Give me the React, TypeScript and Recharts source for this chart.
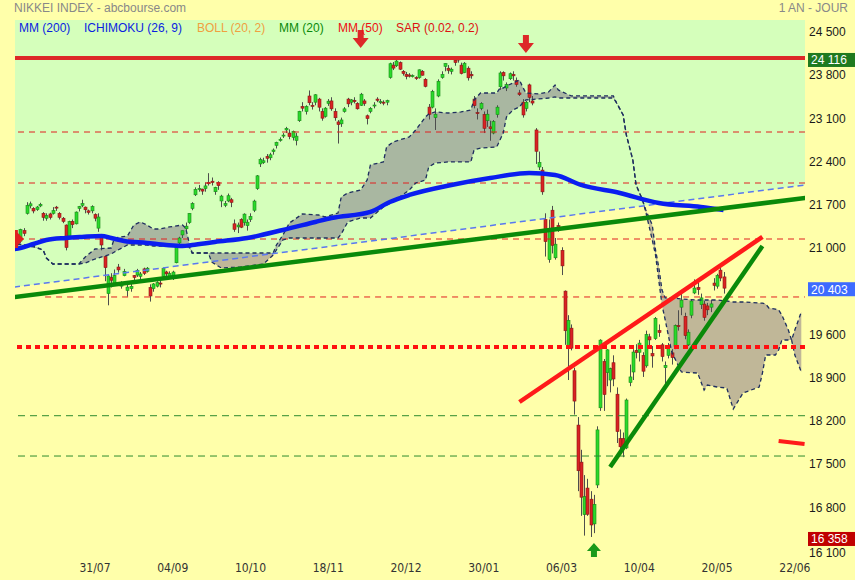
import React from "react";
import { ComposedChart, XAxis, YAxis, Area, Line, Bar, Scatter, ReferenceLine } from "recharts";

// trading day index of the first candle (0 = 25/06/2019)
const firstCandle = 1;

// [open, high, low, close], one per trading day, 26/06/2019 -> 22/05/2020
const candles = [
  [21180, 21260, 21050, 21086], [21150, 21350, 21120, 21338], [21320, 21360, 21230, 21275],
  // juillet
  [21600, 21780, 21580, 21729], [21720, 21790, 21680, 21754], [21680, 21700, 21600, 21638], [21660, 21720, 21640, 21702], [21720, 21770, 21700, 21746],
  [21600, 21620, 21480, 21534], [21520, 21600, 21480, 21565], [21590, 21610, 21500, 21533], [21600, 21700, 21580, 21643], [21700, 21720, 21640, 21686],
  [21600, 21620, 21500, 21535], [21520, 21540, 21440, 21469], [21410, 21420, 21000, 21046], [21230, 21480, 21200, 21466],
  [21470, 21500, 21360, 21416], [21430, 21630, 21420, 21620], [21680, 21720, 21630, 21709], [21730, 21820, 21700, 21756], [21700, 21710, 21600, 21658],
  [21640, 21660, 21580, 21616], [21640, 21730, 21600, 21709], [21580, 21600, 21470, 21521],
  // aout
  [21360, 21600, 21300, 21540], [21230, 21250, 21000, 21087],
  [20900, 20910, 20500, 20720], [20300, 20600, 20110, 20585], [20560, 20630, 20400, 20516], [20470, 20690, 20460, 20593], [20730, 20780, 20640, 20684],
  [20420, 20500, 20380, 20455], [20590, 20700, 20580, 20655], [20350, 20470, 20250, 20405], [20380, 20480, 20330, 20418],
  [20590, 20600, 20500, 20563], [20600, 20700, 20570, 20677], [20580, 20650, 20520, 20618], [20700, 20720, 20600, 20628], [20660, 20730, 20640, 20711],
  [20400, 20450, 20170, 20261], [20380, 20470, 20330, 20456], [20420, 20500, 20400, 20479], [20470, 20520, 20400, 20460], [20580, 20720, 20560, 20704],
  // septembre
  [20650, 20670, 20570, 20620], [20580, 20660, 20550, 20625], [20590, 20670, 20520, 20649], [20800, 21100, 20790, 21086], [21120, 21220, 21100, 21200],
  [21250, 21320, 21200, 21318], [21350, 21450, 21320, 21392], [21450, 21600, 21430, 21598], [21680, 21780, 21650, 21759], [21900, 22020, 21880, 21988],
  [21990, 22060, 21950, 22001], [21990, 22000, 21900, 21960], [22000, 22100, 21950, 22044], [22100, 22250, 22050, 22079],
  [22120, 22180, 22050, 22098], [21950, 22030, 21900, 22020], [22100, 22120, 21980, 22048], [21800, 21900, 21700, 21879],
  [21730, 21800, 21700, 21756],
  // octobre
  [21800, 21920, 21780, 21885], [21820, 21850, 21700, 21778], [21430, 21500, 21300, 21341], [21380, 21450, 21280, 21410],
  [21500, 21520, 21360, 21375], [21450, 21600, 21400, 21587], [21400, 21500, 21320, 21456], [21500, 21600, 21460, 21551], [21650, 21820, 21620, 21798],
  [22000, 22220, 21980, 22207], [22400, 22500, 22350, 22472], [22420, 22500, 22400, 22451], [22520, 22560, 22420, 22492],
  [22500, 22580, 22460, 22548], [22600, 22650, 22550, 22625], [22700, 22760, 22650, 22750], [22780, 22830, 22760, 22799],
  [22860, 22900, 22820, 22867], [22950, 23000, 22900, 22974], [22900, 22960, 22800, 22843], [22830, 22940, 22780, 22927],
  // novembre
  [22780, 22900, 22700, 22850],
  [23100, 23260, 23080, 23251], [23330, 23400, 23250, 23303], [23250, 23350, 23200, 23330], [23500, 23590, 23350, 23391],
  [23350, 23400, 23280, 23331], [23400, 23530, 23350, 23520], [23450, 23470, 23250, 23319], [23250, 23300, 23100, 23141], [23170, 23320, 23150, 23303],
  [23380, 23450, 23340, 23416], [23420, 23480, 23260, 23292], [23250, 23300, 23100, 23148], [23080, 23110, 22730, 23038], [23050, 23150, 23000, 23112],
  [23250, 23320, 23230, 23292], [23450, 23470, 23320, 23373], [23400, 23450, 23350, 23437], [23430, 23480, 23380, 23409], [23380, 23400, 23280, 23293],
  // decembre
  [23350, 23550, 23340, 23529], [23420, 23450, 23340, 23379], [23180, 23200, 23040, 23135], [23250, 23320, 23220, 23300], [23340, 23400, 23300, 23354],
  [23450, 23480, 23400, 23430], [23400, 23450, 23370, 23410], [23400, 23430, 23350, 23391], [23400, 23440, 23350, 23424], [23800, 24040, 23780, 24023],
  [24000, 24050, 23920, 23952], [23990, 24090, 23970, 24066], [24040, 24060, 23920, 23934], [23900, 23920, 23830, 23864], [23850, 23890, 23770, 23816],
  [23840, 23870, 23800, 23821], [23820, 23850, 23800, 23830], [23800, 23820, 23760, 23782], [23800, 23930, 23780, 23924], [23900, 23920, 23830, 23837],
  [23770, 23790, 23640, 23656],
  // janvier
  [23320, 23370, 23120, 23204], [23320, 23600, 23300, 23575], [23150, 23300, 22950, 23204], [23500, 23770, 23480, 23739], [23800, 23900, 23780, 23850],
  [23980, 24030, 23900, 24025], [23950, 24000, 23860, 23916], [23900, 23960, 23850, 23933], [24080, 24116, 23990, 24041],
  [24100, 24110, 24040, 24083], [24000, 24040, 23850, 23864], [23880, 24050, 23870, 24031], [23950, 23980, 23750, 23795], [23850, 23900, 23780, 23827],
  [23450, 23500, 23300, 23343], [23230, 23300, 23120, 23215], [23300, 23400, 23270, 23379], [23200, 23250, 22900, 22977], [23100, 23280, 23000, 23205],
  // fevrier
  [23000, 23100, 22775, 22971], [22900, 23110, 22880, 23084], [23200, 23350, 23150, 23319], [23650, 23900, 23600, 23873], [23880, 23900, 23750, 23827],
  [23630, 23720, 23580, 23685], [23780, 23880, 23760, 23861], [23850, 23900, 23750, 23827], [23750, 23800, 23650, 23687],
  [23550, 23600, 23500, 23523], [23400, 23450, 23150, 23193], [23300, 23420, 23250, 23400], [23680, 23700, 23400, 23479], [23420, 23500, 23350, 23386],
  [22950, 22980, 22400, 22605], [22350, 22600, 22300, 22426], [22300, 22350, 21900, 21948], [21500, 21600, 20900, 21142],
  // mars
  [20850, 21500, 20800, 21344], [21650, 21720, 20950, 21082], [20880, 21200, 20850, 21100], [21400, 21450, 21300, 21329], [21000, 21050, 20600, 20749],
  [20340, 20350, 19470, 19698], [19450, 19950, 18900, 19867], [19740, 19800, 19380, 19416], [19050, 19100, 18340, 18559], [18170, 18300, 17100, 17431],
  [17570, 17770, 16700, 17002], [16720, 17360, 16380, 17011], [17150, 17300, 16700, 16726], [16970, 17100, 16358, 16552],
  [16570, 17040, 16420, 16887], [17200, 18150, 17150, 18092], [18450, 19560, 18400, 19546], [19200, 19240, 18400, 18665], [19020, 19400, 18800, 19389],
  [18900, 19100, 18700, 19084], [19180, 19300, 18800, 18917],
  // avril
  [18670, 18780, 17880, 18065], [17950, 18100, 17700, 17819], [17950, 18050, 17650, 17820],
  [17800, 18600, 17780, 18576], [18860, 19150, 18800, 18950], [19030, 19400, 18900, 19353], [19380, 19480, 19250, 19345], [19350, 19550, 19200, 19498],
  [19300, 19350, 18950, 19043], [19130, 19700, 19100, 19638], [19600, 19650, 19450, 19550], [19330, 19450, 19100, 19290], [19570, 19920, 19550, 19897],
  [19700, 19800, 19600, 19669], [19470, 19500, 19200, 19280], [19100, 19200, 18800, 19137], [19300, 19500, 19250, 19429], [19340, 19400, 19150, 19262],
  [19440, 19800, 19400, 19783], [19780, 20030, 19700, 19771], [20080, 20300, 19950, 20193],
  // mai
  [19930, 19990, 19560, 19619], [19470, 19720, 19450, 19674], [19950, 20200, 19900, 20179],
  [20310, 20530, 20290, 20390], [20400, 20480, 20280, 20366], [20120, 20300, 20050, 20230], [20130, 20180, 19860, 19914], [20100, 20150, 19950, 20037],
  [20080, 20200, 20000, 20133], [20470, 20550, 20350, 20433], [20420, 20620, 20380, 20595], [20680, 20750, 20500, 20552], [20570, 20650, 20300, 20388],
];

// ichimoku cloud (already shifted 26 sessions ahead)
const cloudIdx = [1, 6, 9, 10, 12, 20, 22, 25, 30, 31, 35, 37, 39, 41, 43, 45, 48, 52, 53, 54, 55, 60, 61, 64, 70, 77, 80, 81, 83, 85, 89, 94, 96, 100, 101, 103, 107, 109, 110, 114, 115, 117, 122, 124, 127, 128, 130, 134, 138, 141, 142, 144, 149, 150, 151, 152, 154, 156, 157, 158, 162, 165, 167, 168, 172, 185, 186, 188, 189, 191, 192, 194, 195, 197, 198, 199, 200, 201, 203, 206, 211, 213, 214, 217, 220, 222, 225, 230, 231, 232, 233, 235, 236, 237, 239, 240, 241, 243];
const spanA = [21103, 21071, 21006, 20876, 20779, 20779, 20893, 21022, 21038, 21200, 21233, 21411, 21460, 21411, 21346, 21346, 21379, 21411, 21362, 21136, 20957, 20957, 20957, 20957, 20957, 20957, 20957, 21087, 21249, 21443, 21589, 21573, 21541, 21605, 21865, 21929, 21978, 22140, 22383, 22432, 22675, 22756, 22837, 22950, 23161, 23209, 23242, 23225, 23242, 23274, 23436, 23549, 23549, 23630, 23630, 23663, 23711, 23760, 23647, 23549, 23533, 23566, 23679, 23598, 23501, 23501, 23387, 23193, 22869, 22464, 22059, 21816, 21654, 21411, 21006, 20731, 20358, 20230, 20230, 20213, 20196, 20196, 20196, 20196, 20180, 20164, 20164, 20147, 20147, 20131, 20066, 20050, 20034, 19953, 19710, 19548, 19710, 20002];
const spanB = [21103, 21055, 21006, 20876, 20779, 20779, 20795, 20860, 20941, 20974, 21087, 21087, 21087, 21087, 21071, 21071, 21071, 21071, 21055, 21055, 20957, 20957, 20812, 20714, 20731, 20779, 20925, 21006, 21168, 21200, 21200, 21200, 21200, 21200, 21265, 21460, 21524, 21524, 21524, 21703, 21735, 21784, 21978, 22091, 22140, 22351, 22415, 22432, 22432, 22432, 22626, 22658, 22675, 22788, 22901, 23161, 23274, 23323, 23387, 23436, 23452, 23468, 23485, 23468, 23468, 23468, 23387, 23193, 22869, 22464, 22059, 21816, 21622, 21168, 20925, 20520, 20115, 19872, 19354, 19030, 19013, 18738, 18819, 18787, 18770, 18430, 18689, 18787, 19013, 19305, 19305, 19305, 19386, 19548, 19548, 19548, 19305, 19030];

// moyenne mobile 200
const mmIdx = [0, 2, 6, 10, 16, 21, 27, 30, 34, 41, 47, 52, 55, 62, 72, 83, 93, 98, 110, 116, 122, 135, 147, 159, 167, 175, 187, 199, 212, 219];
const mm200 = [21022, 21038, 21103, 21168, 21200, 21217, 21233, 21200, 21152, 21120, 21087, 21071, 21087, 21136, 21200, 21330, 21460, 21524, 21622, 21784, 21897, 22059, 22172, 22253, 22221, 22059, 21929, 21767, 21703, 21654];

// trend lines [index, value] pairs
const supportLong = [[0, 20243], [245, 21854]];
const channelLong = [[0, 20405], [245, 22065]];
const resistanceUp = [[156, 18544], [231, 21217]];
const supportUp = [[184, 17490], [231, 21071]];
const sarNext = [[236, 17912], [244, 17863]];

const yearHigh = 24116;
const lastPrice = 20403;
const yearLow = 16358;
const redLevels = [22917, 22091, 21184];
const redLevelLate = 20245;
const redMajor = 19435;
const greenLevels = [18322, 17669];

const sellIdx = [107, 158];
const sellVal = [24278, 24197];
const buyIdx = [179];
const buyVal = [16260];

const tickIdx = [25, 49, 73, 97, 121, 145, 169, 193, 217, 241];
const tickLabels = ["31/07", "04/09", "10/10", "18/11", "20/12", "30/01", "06/03", "10/04", "20/05", "22/06"];
const yTicks = [16100, 16800, 17500, 18200, 18900, 19600, 21000, 21700, 22400, 23100, 23800, 24500];

const lastSlot = 245;
const xDomain = [0.31, 244.14];
const yDomain = [15985, 24731];

const rows: any[] = [];
for (let i = 0; i <= lastSlot; i++) rows.push({ x: i });
candles.forEach((c, k) => {
  const r = rows[firstCandle + k];
  r.o = c[0]; r.h = c[1]; r.l = c[2]; r.c = c[3];
  r.range = [c[2], c[1]];
});
cloudIdx.forEach((ix, k) => {
  const r = rows[ix];
  r.spanA = spanA[k];
  r.spanB = spanB[k];
  r.cloud = [Math.min(spanA[k], spanB[k]), Math.max(spanA[k], spanB[k])];
});
mmIdx.forEach((ix, k) => { rows[ix].mm200 = mm200[k]; });
const put = (pts: number[][], key: string) => pts.forEach(([ix, v]) => { rows[ix][key] = v; });
put(supportLong, "supportLong");
put(channelLong, "channelLong");
put(resistanceUp, "resistanceUp");
put(supportUp, "supportUp");
put(sarNext, "sarNext");
channelLong.forEach(([ix, v]) => { rows[ix].bg = [v, yDomain[1] + 100]; });

const sellRows = sellIdx.map((x, k) => ({ x, v: sellVal[k] }));
const buyRows = buyIdx.map((x, k) => ({ x, v: buyVal[k] }));
const flagRows = [{ x: 1.2, v: 21184 }];

const font = "Arial, 'Liberation Sans', sans-serif";
const fmt = (v: number) => `${Math.floor(v / 1000)} ${String(v % 1000).padStart(3, "0")}`;

function Candle(props: any) {
  const { x, y, width, height, payload } = props;
  if (!payload || payload.o == null) return null;
  const cx = Math.round(x + width / 2) + 0.5;
  const top = Math.min(y, y + height);
  const h = Math.abs(height);
  const span = payload.h - payload.l;
  const py = (v: number) => (span > 0 ? top + ((payload.h - v) / span) * h : top);
  const up = payload.c >= payload.o;
  const bt = py(Math.max(payload.o, payload.c));
  const bb = py(Math.min(payload.o, payload.c));
  return (
    <g>
      <line x1={cx} x2={cx} y1={top} y2={top + h} stroke="#4d4d4d" strokeWidth={1} />
      <rect
        x={cx - 1.5}
        y={bt}
        width={3}
        height={Math.max(1, bb - bt)}
        fill={up ? "#2bd92b" : "#d92323"}
        stroke={up ? "#178a17" : "#8a1616"}
        strokeWidth={0.6}
      />
    </g>
  );
}

const DownArrow = ({ cx, cy }: any) => (
  <polygon
    points={`${cx},${cy} ${cx - 8},${cy - 10} ${cx - 3},${cy - 10} ${cx - 3},${cy - 18} ${cx + 3},${cy - 18} ${cx + 3},${cy - 10} ${cx + 8},${cy - 10}`}
    fill="#dd2828"
  />
);
const UpArrow = ({ cx, cy }: any) => (
  <polygon
    points={`${cx},${cy} ${cx - 7},${cy + 8} ${cx - 3},${cy + 8} ${cx - 3},${cy + 14} ${cx + 3},${cy + 14} ${cx + 3},${cy + 8} ${cx + 7},${cy + 8}`}
    fill="#1a9a1a"
  />
);
const Flag = ({ cx, cy }: any) => (
  <polygon
    points={`${cx - 3},${cy - 9} ${cx},${cy - 9} ${cx},${cy - 6} ${cx + 6},${cy} ${cx},${cy + 6} ${cx},${cy + 9} ${cx - 3},${cy + 9}`}
    fill="#e02020"
  />
);

const badge = (text: string, color: string) => (p: any) => {
  const vb = p.viewBox || {};
  const bx = vb.x + vb.width + 3;
  return (
    <g>
      <rect x={bx} y={vb.y - 5} width={50} height={14} fill={color} />
      <text x={bx + 3} y={vb.y + 6.5} fill="#ffffff" fontSize={12} fontFamily={font}>{text}</text>
    </g>
  );
};

const XTick = ({ x, y, payload }: any) => {
  const k = tickIdx.indexOf(payload.value);
  return (
    <text x={x} y={y} dy={4} textAnchor="middle" fontSize={12} fill="#333"
      fontFamily="'Liberation Sans Narrow', 'Arial Narrow', 'DejaVu Sans Condensed', sans-serif">
      {tickLabels[k]}
    </text>
  );
};

const YTick = ({ x, y, payload }: any) => (
  <text x={x} y={y} dx={-4} dy={payload.value === 16100 ? 4 : 2} textAnchor="start" fontSize={12} fill="#1a1a1a" fontFamily={font}>
    {fmt(payload.value)}
  </text>
);

const legend = [
  { t: "MM (200)", c: "#0a1ee0", x: 19 },
  { t: "ICHIMOKU (26, 9)", c: "#0a1ee0", x: 84 },
  { t: "BOLL (20, 2)", c: "#f0a040", x: 197 },
  { t: "MM (20)", c: "#0a8a0a", x: 279 },
  { t: "MM (50)", c: "#ee1111", x: 338 },
  { t: "SAR (0.02, 0.2)", c: "#dd1111", x: 396 },
];

export default function App() {
  return (
    <div style={{ position: "absolute", left: 0, top: 0, width: 855, height: 580, background: "#ffffaa", fontFamily: font, overflow: "hidden" }}>
      <ComposedChart width={855} height={580} data={rows} margin={{ top: 20, right: 0, bottom: 0, left: 15 }}>
        <XAxis dataKey="x" type="number" domain={xDomain} allowDataOverflow ticks={tickIdx} interval={0}
          tick={<XTick />} axisLine={false} tickLine={false} height={20} />
        <YAxis orientation="right" type="number" domain={yDomain} allowDataOverflow ticks={yTicks} interval={0}
          tick={<YTick />} axisLine={false} tickLine={false} width={50} />

        <Area dataKey="bg" type="linear" connectNulls fill="#d5ffbb" fillOpacity={1} stroke="none" isAnimationActive={false} activeDot={false} />
        <Area dataKey="cloud" type="linear" connectNulls fill="rgb(115,95,130)" fillOpacity={0.45} stroke="none" isAnimationActive={false} activeDot={false} />

        {redLevels.map((v) => (
          <ReferenceLine key={v} y={v} stroke="#e02020" strokeWidth={1} strokeDasharray="6 5" />
        ))}
        <ReferenceLine segment={[{ x: 9.6, y: redLevelLate }, { x: xDomain[1], y: redLevelLate }]} stroke="#e02020" strokeWidth={1} strokeDasharray="6 5" />
        {greenLevels.map((v) => (
          <ReferenceLine key={v} y={v} stroke="#2e8b2e" strokeWidth={1} strokeDasharray="7 5" />
        ))}

        <Line dataKey="spanA" type="linear" connectNulls stroke="#1f2f5f" strokeWidth={1.3} strokeDasharray="4 3" dot={false} activeDot={false} isAnimationActive={false} />
        <Line dataKey="spanB" type="linear" connectNulls stroke="#1f2f5f" strokeWidth={1.3} strokeDasharray="4 3" dot={false} activeDot={false} isAnimationActive={false} />
        <Line dataKey="channelLong" type="linear" connectNulls stroke="#5a78f0" strokeWidth={1.5} strokeDasharray="6 4" dot={false} activeDot={false} isAnimationActive={false} />

        <Bar dataKey="range" barSize={3} shape={<Candle />} isAnimationActive={false} />

        <Line dataKey="mm200" type="monotone" connectNulls stroke="#0a1ef0" strokeWidth={4.5} dot={false} activeDot={false} isAnimationActive={false} />
        <Line dataKey="supportLong" type="linear" connectNulls stroke="#0a8a0a" strokeWidth={4.5} dot={false} activeDot={false} isAnimationActive={false} />
        <Line dataKey="resistanceUp" type="linear" connectNulls stroke="#ff1a1a" strokeWidth={4.5} dot={false} activeDot={false} isAnimationActive={false} />
        <Line dataKey="supportUp" type="linear" connectNulls stroke="#0a8a0a" strokeWidth={4.5} dot={false} activeDot={false} isAnimationActive={false} />
        <Line dataKey="sarNext" type="linear" connectNulls stroke="#ff1a1a" strokeWidth={4} dot={false} activeDot={false} isAnimationActive={false} />

        <ReferenceLine y={redMajor} stroke="#ff1010" strokeWidth={4} strokeDasharray="5 4" />
        <ReferenceLine y={yearHigh} stroke="#dd2828" strokeWidth={4} label={badge("24 116", "#1f7a1f")} />
        <ReferenceLine y={lastPrice} stroke="none" strokeOpacity={0} label={badge("20 403", "#3d6bff")} />
        <ReferenceLine y={yearLow} stroke="none" strokeOpacity={0} label={badge("16 358", "#c00000")} />

        <Scatter data={sellRows} dataKey="v" shape={<DownArrow />} isAnimationActive={false} />
        <Scatter data={buyRows} dataKey="v" shape={<UpArrow />} isAnimationActive={false} />
        <Scatter data={flagRows} dataKey="v" shape={<Flag />} isAnimationActive={false} />
      </ComposedChart>

      <div style={{ position: "absolute", left: 14, top: 1, fontSize: 12, color: "#888", whiteSpace: "nowrap" }}>NIKKEI INDEX - abcbourse.com</div>
      <div style={{ position: "absolute", right: 7, top: 1, fontSize: 12, color: "#888", whiteSpace: "nowrap" }}>1 AN - JOUR</div>
      {legend.map((l) => (
        <div key={l.t} style={{ position: "absolute", left: l.x, top: 21, fontSize: 12, color: l.c, whiteSpace: "nowrap" }}>{l.t}</div>
      ))}
    </div>
  );
}
